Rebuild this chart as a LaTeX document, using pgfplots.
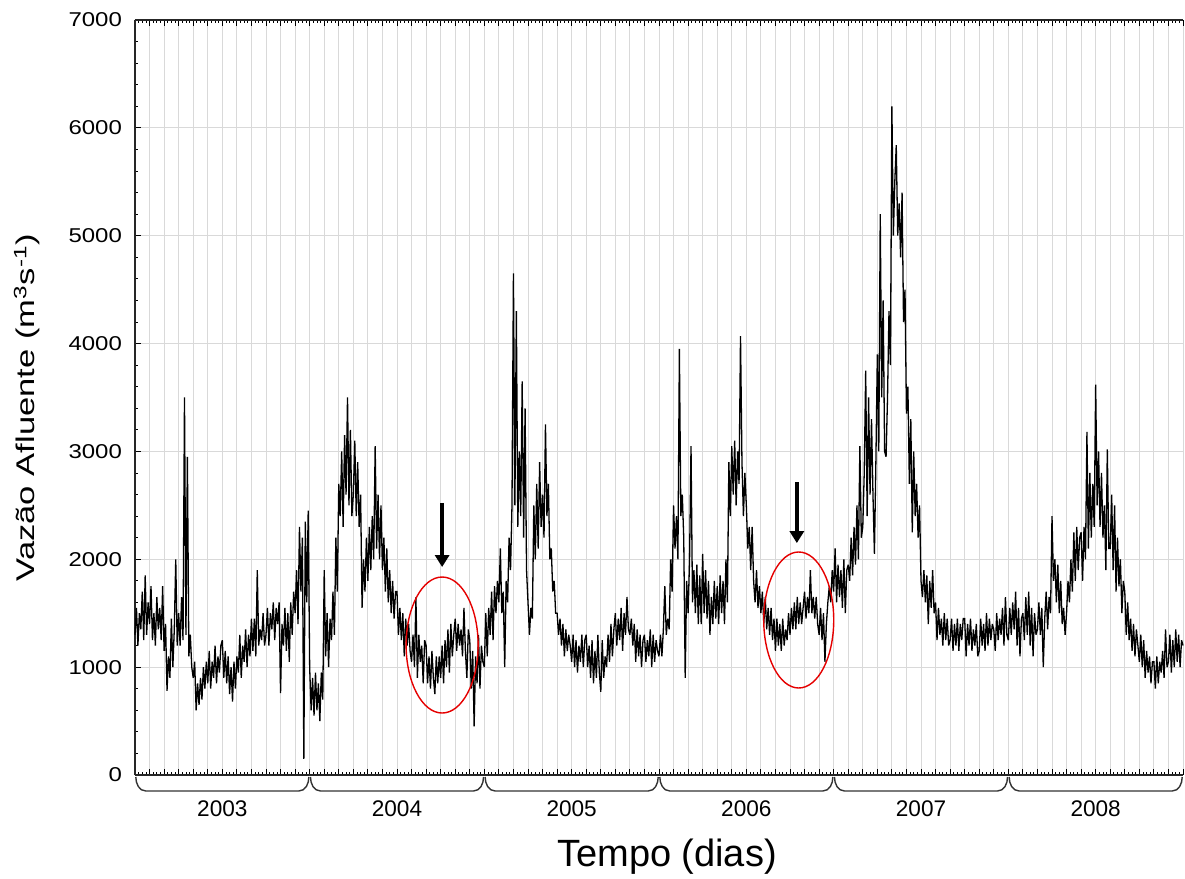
\documentclass[border=0pt]{standalone}
\usepackage{pgfplots}
\usepackage{pgfplotstable}
\pgfplotsset{compat=1.18}
\usepackage{fontspec}
\setmainfont{Liberation Sans}
\newfontfamily\tickfont[FakeStretch=1.2]{Liberation Sans}
\newfontfamily\ylabfont[FakeStretch=1.35]{Liberation Sans}
\usetikzlibrary{arrows.meta,calc}
\tikzset{
  yrbrace/.style={black!80, line width=0.7pt},
  yrlab/.style={font=\fontsize{11.3}{12}\selectfont},
}
% daily-ish inflow, 10 readings per month, Jan 2003 .. Dec 2008
\pgfplotstableread[row sep=\\]{
v\\
1300\\1550\\1200\\1500\\1350\\1700\\1250\\1850\\1300\\1600\\
1400\\1750\\1250\\1500\\1200\\1650\\1350\\1550\\1250\\1750\\
1150\\1400\\780\\1100\\900\\1450\\1000\\1350\\2000\\1200\\
1500\\1200\\1650\\1250\\3500\\1300\\2950\\1100\\1300\\1000\\
900\\1050\\600\\850\\650\\900\\700\\1000\\800\\1050\\
850\\1150\\800\\1050\\900\\1200\\850\\1100\\950\\1200\\
1250\\900\\1150\\850\\1100\\750\\1000\\680\\1050\\800\\
1100\\950\\1300\\900\\1200\\1050\\1350\\1000\\1300\\1100\\
1450\\1150\\1450\\1100\\1900\\1200\\1350\\1250\\1500\\1200\\
1300\\1550\\1200\\1500\\1350\\1600\\1250\\1550\\1400\\1600\\
760\\1400\\1200\\1550\\1150\\1500\\1050\\1600\\1300\\1700\\
1500\\1900\\1400\\2300\\1700\\2200\\150\\2350\\1600\\2450\\
1000\\600\\900\\550\\950\\600\\850\\500\\950\\700\\
1900\\1100\\1500\\1000\\1450\\1250\\1700\\1300\\2200\\1700\\
2700\\2400\\3000\\2300\\3150\\2600\\3500\\2500\\3200\\2400\\
2600\\3100\\2400\\2900\\2300\\2600\\1550\\2000\\1700\\2200\\
1800\\2300\\1900\\2400\\2000\\3050\\2100\\2600\\2000\\2500\\
1900\\2200\\1700\\2100\\1600\\1900\\1500\\1800\\1450\\1700\\
1700\\1300\\1550\\1250\\1500\\1100\\1450\\1200\\1400\\1150\\
1050\\1300\\1000\\1650\\900\\1300\\1050\\1200\\850\\1250\\
1200\\850\\1100\\800\\1150\\900\\750\\1100\\850\\1100\\
900\\1200\\850\\1250\\1000\\1350\\950\\1400\\1100\\1300\\
1450\\1150\\1400\\1200\\1350\\1100\\1550\\1150\\900\\1350\\
1250\\800\\1150\\450\\1100\\850\\1300\\800\\1200\\1050\\
1000\\1500\\1100\\1550\\1300\\1700\\1250\\1750\\1500\\1800\\
1600\\2100\\1500\\1700\\1000\\1800\\1600\\2200\\1900\\2500\\
4650\\2500\\4300\\2300\\3000\\2400\\3650\\2200\\3400\\1900\\
1600\\1300\\1550\\1450\\2500\\2000\\2700\\2100\\2900\\2300\\
2600\\2200\\3250\\2400\\2700\\2000\\2100\\1700\\1800\\1500\\
1500\\1300\\1450\\1200\\1400\\1100\\1350\\1150\\1300\\1200\\
1050\\1300\\1000\\1250\\950\\1200\\1050\\1300\\1000\\1250\\
1300\\1000\\1200\\900\\1250\\850\\1150\\900\\1300\\950\\
770\\1250\\900\\1100\\1000\\1300\\1050\\1400\\1100\\1350\\
1500\\1200\\1450\\1250\\1550\\1150\\1500\\1300\\1650\\1350\\
1300\\1450\\1200\\1400\\1050\\1350\\1100\\1300\\1000\\1250\\
1300\\1050\\1250\\1100\\1350\\1000\\1300\\1050\\1250\\1150\\
1100\\1300\\1100\\1350\\1750\\1300\\1450\\1350\\2000\\1700\\
2500\\2100\\2400\\2000\\3950\\2400\\2600\\2200\\900\\1800\\
1500\\2000\\3050\\1600\\1900\\1500\\1950\\1400\\1850\\1400\\
2050\\1500\\1900\\1450\\1800\\1300\\1650\\1400\\1800\\1450\\
1750\\1400\\1850\\1500\\1800\\1400\\2000\\1600\\2900\\2400\\
3050\\2600\\3100\\2500\\3000\\2700\\4070\\2900\\2400\\2800\\
2500\\2100\\2300\\1900\\2300\\1800\\1600\\1900\\1550\\1750\\
1500\\1700\\1400\\1650\\1350\\1550\\1300\\1550\\1250\\1450\\
1150\\1450\\1200\\1400\\1150\\1450\\1200\\1350\\1250\\1500\\
1300\\1550\\1350\\1600\\1350\\1650\\1400\\1600\\1400\\1550\\
1700\\1450\\1650\\1500\\1900\\1500\\1650\\1450\\1650\\1400\\
1300\\1550\\1250\\1500\\1050\\1400\\1600\\1750\\1600\\1900\\
1700\\2100\\1600\\1950\\1650\\1900\\1550\\2000\\1500\\1900\\
1950\\1800\\2200\\1850\\2300\\1950\\2500\\2000\\3050\\2200\\
2300\\2800\\3750\\2400\\3500\\2600\\3300\\2600\\2050\\2900\\
3900\\3000\\5200\\3500\\4400\\3000\\2950\\3500\\4300\\3800\\
6200\\5000\\5500\\5840\\5000\\5300\\4800\\5400\\4200\\4500\\
3350\\3600\\2700\\3300\\2250\\3000\\2400\\2700\\2200\\2500\\
1800\\1650\\1900\\1600\\1850\\1400\\1800\\1550\\1900\\1500\\
1600\\1250\\1550\\1300\\1450\\1200\\1500\\1250\\1450\\1200\\
1250\\1450\\1150\\1400\\1200\\1450\\1150\\1400\\1250\\1450\\
1450\\1100\\1400\\1200\\1450\\1150\\1350\\1200\\1400\\1100\\
1150\\1450\\1200\\1400\\1150\\1500\\1200\\1450\\1250\\1400\\
1350\\1150\\1500\\1250\\1450\\1300\\1550\\1200\\1650\\1300\\
1250\\1550\\1300\\1600\\1350\\1700\\1200\\1550\\1100\\1450\\
1500\\1250\\1650\\1300\\1700\\1200\\1550\\1100\\1500\\1300\\
1350\\1600\\1300\\1550\\1000\\1450\\1700\\1350\\1650\\1500\\
2400\\1800\\2000\\1600\\1950\\1500\\1800\\1400\\1550\\1300\\
1500\\1800\\1600\\2000\\1700\\2250\\1800\\2300\\1900\\2200\\
2250\\1800\\2300\\2000\\3180\\2100\\2800\\2200\\2700\\2300\\
3620\\2500\\3000\\2300\\2800\\2200\\2500\\1900\\3020\\2100\\
2100\\2600\\1900\\2500\\1700\\2200\\1750\\2000\\1500\\1800\\
1700\\1300\\1600\\1250\\1450\\1150\\1400\\1100\\1350\\1200\\
1050\\1300\\1000\\1250\\900\\1150\\950\\1100\\850\\1050\\
1050\\800\\1100\\850\\1050\\950\\1150\\900\\1350\\1000\\
1050\\1300\\950\\1250\\1000\\1350\\1050\\1300\\1000\\1250\\
1200\\
}\flowtable
\begin{document}
\begin{tikzpicture}
\begin{axis}[
  scale only axis, width=524pt, height=377.5pt,
  xmin=0, xmax=72, ymin=0, ymax=7000,
  axis x line*=box, axis y line*=left,
  xtick={0,1,...,72}, xticklabels={}, minor x tick num=3,
  ytick={0,1000,...,7000}, minor y tick num=4,
  yticklabels={0,1000,2000,3000,4000,5000,6000,7000},
  yticklabel style={font=\tickfont\fontsize{10}{11}\selectfont, xshift=-3pt},
  tick align=inside, major tick length=3pt, minor tick length=1.5pt,
  grid=major, major grid style={black!15, line width=0.5pt},
  tick style={black, line width=0.4pt},
  axis line style={black!85, line width=0.6pt},
  clip=false,
]
\coordinate (ll) at (rel axis cs:0,0);
\coordinate (ur) at (rel axis cs:1,1);
\addplot[black, line width=0.65pt, line join=miter, miter limit=3] table[x expr=\coordindex/10, y=v] {\flowtable};
% annotations
\draw[red!90!black, line width=0.7pt] (axis cs:21.1,1205) ellipse [x radius=18pt, y radius=34pt];
\draw[red!90!black, line width=0.7pt] (axis cs:45.6,1437) ellipse [x radius=17.5pt, y radius=34pt];
\draw[line width=2pt, -{Triangle[width=7pt,length=6pt]}] (axis cs:21.1,2522) -- (axis cs:21.1,1928);
\draw[line width=2pt, -{Triangle[width=7pt,length=6pt]}] (axis cs:45.47,2716) -- (axis cs:45.47,2150);
\coordinate (y0) at (axis cs:0,0);
\coordinate (y1) at (axis cs:12,0);
\coordinate (y2) at (axis cs:24,0);
\coordinate (y3) at (axis cs:36,0);
\coordinate (y4) at (axis cs:48,0);
\coordinate (y5) at (axis cs:60,0);
\coordinate (y6) at (axis cs:72,0);
\end{axis}
% year braces
\draw[yrbrace] ($(y0)+(0.4pt,-1pt)$) to[out=-90,in=180] ++(5pt,-7pt) -- ($(y1)+(-5.4pt,-8pt)$) to[out=0,in=-90] ++(5pt,7pt);
\draw[yrbrace] ($(y1)+(0.4pt,-1pt)$) to[out=-90,in=180] ++(5pt,-7pt) -- ($(y2)+(-5.4pt,-8pt)$) to[out=0,in=-90] ++(5pt,7pt);
\draw[yrbrace] ($(y2)+(0.4pt,-1pt)$) to[out=-90,in=180] ++(5pt,-7pt) -- ($(y3)+(-5.4pt,-8pt)$) to[out=0,in=-90] ++(5pt,7pt);
\draw[yrbrace] ($(y3)+(0.4pt,-1pt)$) to[out=-90,in=180] ++(5pt,-7pt) -- ($(y4)+(-5.4pt,-8pt)$) to[out=0,in=-90] ++(5pt,7pt);
\draw[yrbrace] ($(y4)+(0.4pt,-1pt)$) to[out=-90,in=180] ++(5pt,-7pt) -- ($(y5)+(-5.4pt,-8pt)$) to[out=0,in=-90] ++(5pt,7pt);
\draw[yrbrace] ($(y5)+(0.4pt,-1pt)$) to[out=-90,in=180] ++(5pt,-7pt) -- ($(y6)+(-5.4pt,-8pt)$) to[out=0,in=-90] ++(5pt,7pt);
\node[yrlab] at ($(y0)!0.5!(y1)+(0,-17pt)$) {2003};
\node[yrlab] at ($(y1)!0.5!(y2)+(0,-17pt)$) {2004};
\node[yrlab] at ($(y2)!0.5!(y3)+(0,-17pt)$) {2005};
\node[yrlab] at ($(y3)!0.5!(y4)+(0,-17pt)$) {2006};
\node[yrlab] at ($(y4)!0.5!(y5)+(0,-17pt)$) {2007};
\node[yrlab] at ($(y5)!0.5!(y6)+(0,-17pt)$) {2008};
\node[font=\fontsize{19}{21}\selectfont] at ($(y3)+(4pt,-41pt)$) {Tempo (dias)};
\node[rotate=90, font=\ylabfont\fontsize{12.8}{14}\selectfont] at ($(ll)!0.5!(ll|-ur)+(-54pt,-5pt)$) {Vazão Afluente (m\textsuperscript{3}s\textsuperscript{-1})};
\pgfresetboundingbox
\path[use as bounding box] ($(ll)+(-67.5pt,-52pt)$) rectangle ($(ur)+(1pt,10pt)$);
\end{tikzpicture}
\end{document}
